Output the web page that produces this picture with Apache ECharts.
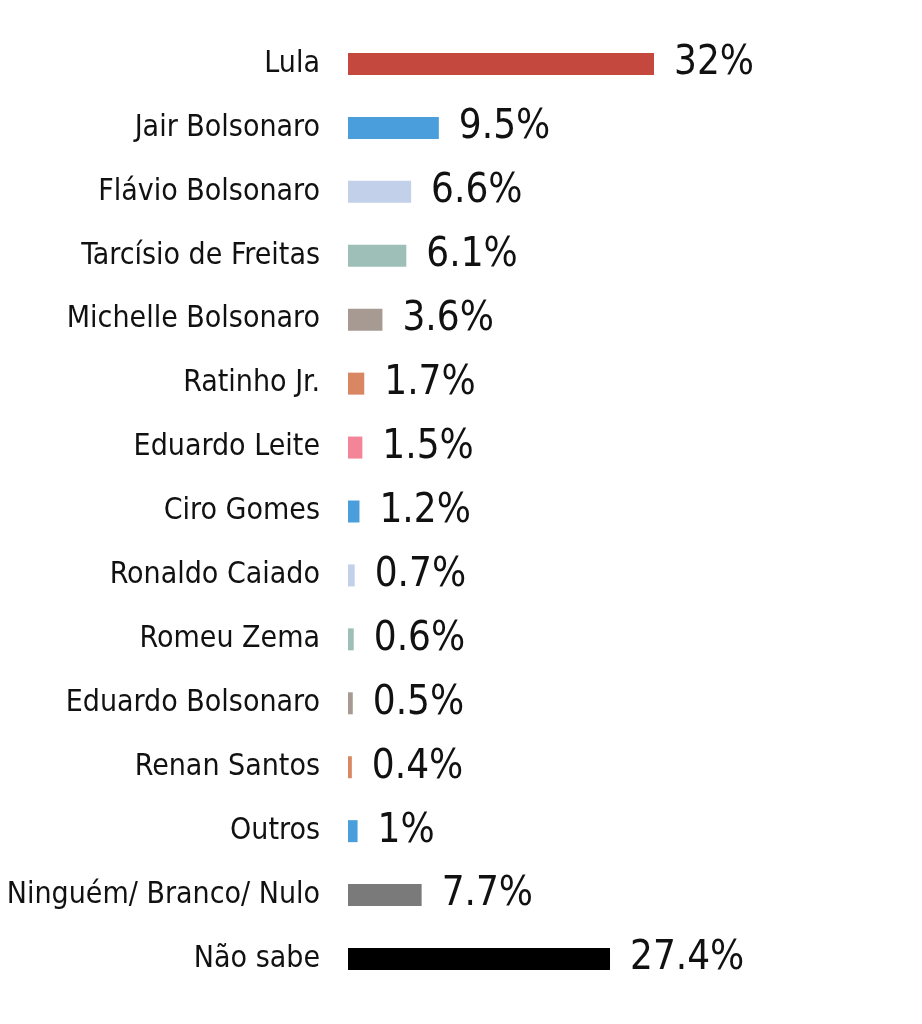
<!DOCTYPE html>
<html>
<head>
<meta charset="utf-8">
<script src="https://cdn.jsdelivr.net/npm/echarts@6/dist/echarts.min.js"></script>
<style>
  html, body { margin: 0; padding: 0; background: #fff; }
  #chart { width: 922px; height: 1024px; }
</style>
</head>
<body>
<div id="chart"></div>
<script>
const candidates = ['Lula', 'Jair Bolsonaro', 'Flávio Bolsonaro', 'Tarcísio de Freitas', 'Michelle Bolsonaro',
  'Ratinho Jr.', 'Eduardo Leite', 'Ciro Gomes', 'Ronaldo Caiado', 'Romeu Zema',
  'Eduardo Bolsonaro', 'Renan Santos', 'Outros', 'Ninguém/ Branco/ Nulo', 'Não sabe']
const values = [32, 9.5, 6.6, 6.1, 3.6, 1.7, 1.5, 1.2, 0.7, 0.6, 0.5, 0.4, 1, 7.7, 27.4]
const valueLabels = ['32%', '9.5%', '6.6%', '6.1%', '3.6%', '1.7%', '1.5%', '1.2%', '0.7%', '0.6%',
  '0.5%', '0.4%', '1%', '7.7%', '27.4%']
const barColors = ['#c4483d', '#4a9edb', '#c3d0ea', '#9dbfb8', '#a79a92', '#d98663', '#f48497',
  '#4a9edb', '#c3d0ea', '#9dbfb8', '#a79a92', '#d98663', '#4a9edb', '#7a7a7a', '#000000']

const FONT = "'Liberation Sans Narrow', 'DejaVu Sans Condensed', sans-serif"

const chart = echarts.init(document.getElementById('chart'))

const option = {
    animation: false,
    backgroundColor: '#ffffff',
    grid: {
        left: 348,
        width: 382.5,
        top: 32,
        height: 959,
        containLabel: false,
        outerBoundsMode: 'none'
    },
    xAxis: {
        type: 'value',
        min: 0,
        max: 40,
        show: false
    },
    yAxis: {
        type: 'category',
        inverse: true,
        data: candidates,
        axisLine: { show: false },
        axisTick: { show: false },
        axisLabel: {
            margin: 28,
            color: '#111',
            fontFamily: FONT,
            fontSize: 30
        }
    },
    series: [
        {
            type: 'bar',
            barWidth: 22,
            data: values.map((v, i) => ({
                value: v,
                itemStyle: { color: barColors[i] }
            })),
            label: {
                show: true,
                position: 'right',
                distance: 20,
                color: '#111',
                fontFamily: FONT,
                fontSize: 40,
                formatter: p => valueLabels[p.dataIndex]
            }
        }
    ]
}
chart.setOption(option)
</script>
</body>
</html>
